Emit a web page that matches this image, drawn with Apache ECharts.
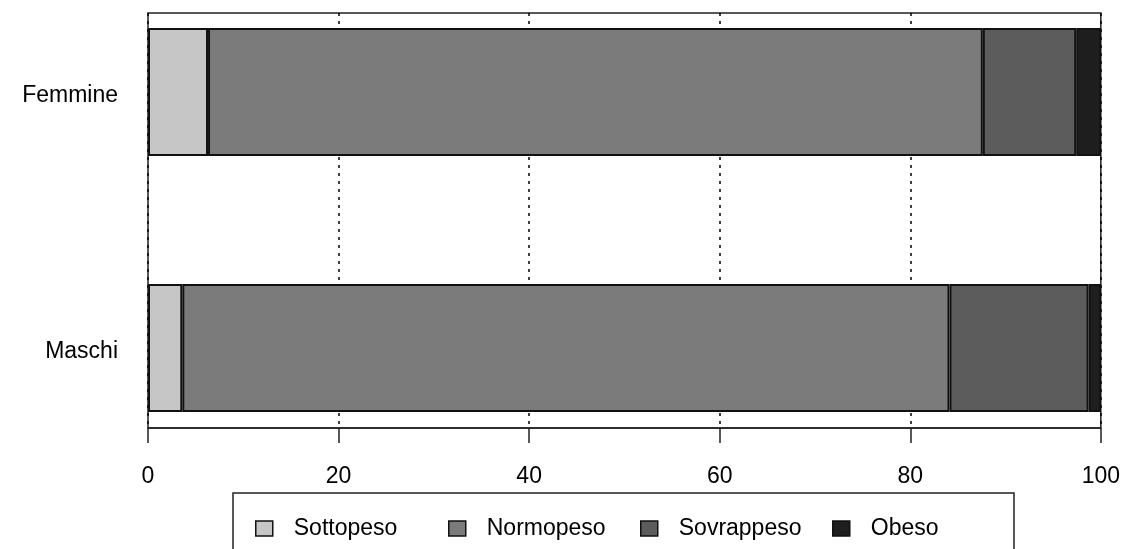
<!DOCTYPE html>
<html>
<head>
<meta charset="utf-8">
<script src="https://cdn.jsdelivr.net/npm/echarts@6/dist/echarts.min.js"></script>
<style>
  html, body { margin: 0; padding: 0; background: #fff; }
  #chart { width: 1123px; height: 549px; }
</style>
</head>
<body>
<div id="chart"></div>
<script>
// dati (percentuali)
const categories = ["Femmine", "Maschi"];
const seriesNames = ["Sottopeso", "Normopeso", "Sovrappeso", "Obeso"];
const sottopeso = [6.3, 3.6];
const normopeso = [81.3, 80.5];
const sovrappeso = [9.8, 14.6];
const obeso = [2.6, 1.3];
const xTicks = [0, 20, 40, 60, 80, 100];

const colors = ["#c6c6c6", "#7b7b7b", "#5c5c5c", "#1e1e1e"];
const values = [sottopeso, normopeso, sovrappeso, obeso];
const font = "Liberation Sans";
const fontSize = 23;

// categoria vuota in mezzo per lo spazio tra le due barre
const yCats = [categories[0], " ", categories[1]];

let series = [];
for (let i = 0; i < seriesNames.length; i++) {
  series.push({
    name: seriesNames[i],
    type: "bar",
    stack: "tot",
    xAxisIndex: 1,
    yAxisIndex: 1,
    barCategoryGap: "0%",
    data: [values[i][0], "-", values[i][1]],
    itemStyle: {
      color: colors[i],
      borderColor: "#111",
      borderWidth: 2
    },
    emphasis: { disabled: true }
  });
}

// una legenda per voce, per tenere le posizioni del riquadro originale
const legendLeft = [255, 448, 640, 832];
let legend = [];
for (let i = 0; i < seriesNames.length; i++) {
  legend.push({
    data: [seriesNames[i]],
    left: legendLeft[i],
    top: 517,
    padding: 0,
    icon: "rect",
    itemWidth: 17,
    itemHeight: 15,
    selectedMode: false,
    itemStyle: { borderColor: "#111", borderWidth: 1.5 },
    textStyle: {
      color: "#000",
      fontFamily: font,
      fontSize: fontSize,
      padding: [4, 0, 0, 16]
    }
  });
}

let myChart = echarts.init(document.getElementById("chart"), null, { renderer: "canvas" });
let option = {
  animation: false,
  color: colors,
  legend: legend,
  grid: [
    {
      left: 148, top: 13, width: 953, height: 415,
      show: true, borderColor: "#222", borderWidth: 1.5,
      backgroundColor: "transparent"
    },
    {
      left: 148, top: 28, width: 953, height: 384
    }
  ],
  xAxis: [
    {
      gridIndex: 0,
      type: "value",
      min: 0,
      max: 100,
      interval: 20,
      axisLine: { show: true, lineStyle: { color: "#222", width: 1.5 } },
      axisTick: { show: true, length: 15, lineStyle: { color: "#222", width: 1.5 } },
      axisLabel: {
        color: "#000",
        fontFamily: font,
        fontSize: fontSize,
        margin: 37,
        showMinLabel: true,
        showMaxLabel: true,
        formatter: function (v) { return xTicks.indexOf(v) >= 0 ? String(v) : ""; }
      },
      splitLine: {
        show: true,
        lineStyle: { color: "#000", width: 1.5, type: [3, 5] }
      }
    },
    {
      gridIndex: 1,
      type: "value",
      min: 0,
      max: 100,
      show: false
    }
  ],
  yAxis: [
    {
      gridIndex: 0,
      type: "value",
      show: false,
      splitLine: { show: false }
    },
    {
      gridIndex: 1,
      type: "category",
      data: yCats,
      inverse: true,
      axisLine: { show: false },
      axisTick: { show: false },
      splitLine: { show: false },
      axisLabel: {
        margin: 30,
        formatter: function (v) { return "{a|" + v + "}"; },
        rich: {
          a: {
            color: "#000",
            fontFamily: font,
            fontSize: fontSize,
            padding: [8, 0, 0, 0]
          }
        }
      }
    }
  ],
  graphic: [
    {
      type: "rect",
      shape: { x: 233, y: 493, width: 781, height: 80 },
      style: { fill: "none", stroke: "#222", lineWidth: 1.5 },
      silent: true
    }
  ],
  series: series
};
myChart.setOption(option, true);
</script>
</body>
</html>
